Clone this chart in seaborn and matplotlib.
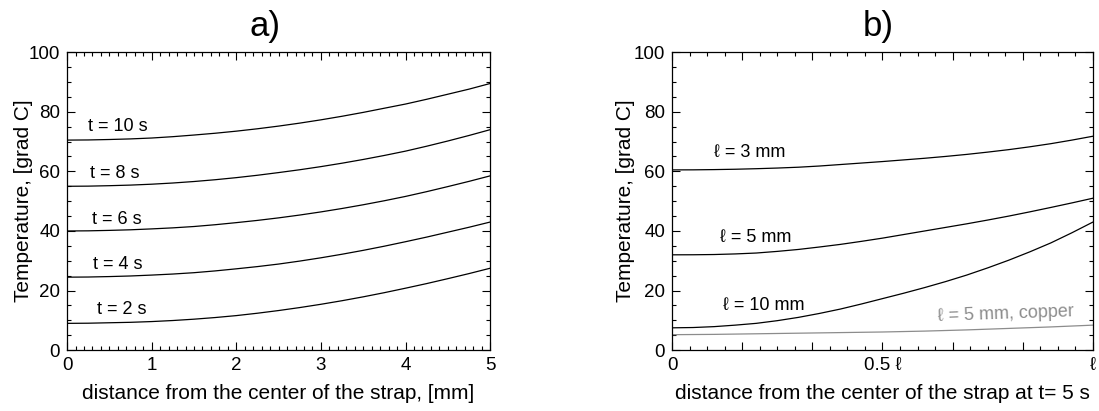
import numpy as np
import pandas as pd
import matplotlib
matplotlib.use("Agg")
import matplotlib.pyplot as plt
from matplotlib.ticker import MultipleLocator, FixedLocator
import seaborn as sns

# ---- data: panel a ----
x_a = [0, 0.25, 0.5, 0.75, 1, 1.25, 1.5, 1.75, 2, 2.25, 2.5, 2.75, 3, 3.25, 3.5,
       3.75, 4, 4.25, 4.5, 4.75, 5]
t10 = [70.5, 70.55, 70.7, 70.9, 71.2, 71.65, 72.2, 72.8, 73.5, 74.3, 75.2, 76.2,
       77.3, 78.5, 79.8, 81.2, 82.6, 84.2, 85.9, 87.6, 89.5]
t8 = [55.0, 55.05, 55.2, 55.4, 55.7, 56.1, 56.6, 57.2, 57.9, 58.7, 59.6, 60.55,
      61.6, 62.75, 64.0, 65.35, 66.8, 68.45, 70.2, 72.05, 74.0]
t6 = [40.0, 40.05, 40.2, 40.4, 40.7, 41.05, 41.5, 42.1, 42.8, 43.55, 44.4, 45.35,
      46.4, 47.55, 48.8, 50.15, 51.6, 53.2, 54.9, 56.65, 58.5]
t4 = [24.5, 24.55, 24.7, 24.9, 25.2, 25.55, 26.0, 26.6, 27.3, 28.05, 28.9, 29.9,
      31.0, 32.2, 33.5, 34.9, 36.4, 37.95, 39.6, 41.25, 43.0]
t2 = [9.0, 9.05, 9.2, 9.35, 9.6, 9.95, 10.4, 10.95, 11.6, 12.4, 13.3, 14.3,
      15.4, 16.6, 17.9, 19.3, 20.8, 22.35, 24.0, 25.7, 27.5]
labels_a = ["t = 10 s", "t = 8 s", "t = 6 s", "t = 4 s", "t = 2 s"]

# ---- data: panel b (distance as fraction of strap length) ----
x_b = [0, 0.05, 0.1, 0.15, 0.2, 0.25, 0.3, 0.35, 0.4, 0.45, 0.5, 0.55, 0.6, 0.65,
       0.7, 0.75, 0.8, 0.85, 0.9, 0.95, 1.0]
l3 = [60.5, 60.52, 60.6, 60.72, 60.9, 61.12, 61.4, 61.8, 62.3, 62.8, 63.3, 63.85,
      64.4, 65.02, 65.7, 66.47, 67.3, 68.25, 69.3, 70.5, 71.8]
l5 = [32.0, 32.02, 32.1, 32.3, 32.6, 33.15, 33.8, 34.62, 35.5, 36.52, 37.6, 38.8,
      40.0, 41.2, 42.4, 43.67, 45.0, 46.42, 47.9, 49.42, 51.0]
l10 = [7.5, 7.6, 7.9, 8.4, 9.0, 9.9, 11.0, 12.32, 13.8, 15.5, 17.3, 19.1, 21.0,
       23.02, 25.2, 27.62, 30.2, 33.0, 36.0, 39.4, 43.0]
cu5 = [5.2, 5.25, 5.3, 5.4, 5.5, 5.6, 5.7, 5.8, 5.9, 6.0, 6.1, 6.25, 6.4, 6.6,
       6.8, 7.05, 7.3, 7.55, 7.8, 8.1, 8.4]
labels_b = ["\u2113 = 3 mm", "\u2113 = 5 mm", "\u2113 = 10 mm", "\u2113 = 5 mm, copper"]
xtick_b = ["0", "", "", "0.5 \u2113", "", "", "\u2113"]

sns.set_style("ticks", rc={"text.color": "black", "axes.labelcolor": "black",
                           "xtick.color": "black", "ytick.color": "black",
                           "axes.edgecolor": "black"})
plt.rcParams['font.family'] = ['Liberation Sans', 'DejaVu Sans']
plt.rcParams.update({
    "xtick.direction": "in", "ytick.direction": "in",
    "xtick.top": True, "ytick.right": True,
    "xtick.major.size": 6, "ytick.major.size": 6,
    "xtick.minor.size": 3, "ytick.minor.size": 3,
    "xtick.major.width": 0.8, "ytick.major.width": 0.8,
    "xtick.minor.width": 0.8, "ytick.minor.width": 0.8,
    "axes.linewidth": 0.9,
})

fig = plt.figure(figsize=(10.99, 4.11), dpi=100)
ax1 = fig.add_axes([0.061, 0.148, 0.385, 0.725])
ax2 = fig.add_axes([0.6115, 0.148, 0.383, 0.725])

LFS = 15
TFS = 13.5

# panel a
df_a = pd.DataFrame({
    "x": x_a * 5,
    "y": t10 + t8 + t6 + t4 + t2,
    "s": sum([[lab] * len(x_a) for lab in labels_a], []),
})
sns.lineplot(data=df_a, x="x", y="y", units="s", estimator=None,
             color="black", lw=0.9, ax=ax1, legend=False)
ax1.set_xlim(0, 5)
ax1.set_ylim(0, 100)
ax1.xaxis.set_major_locator(MultipleLocator(1))
ax1.xaxis.set_minor_locator(MultipleLocator(0.1))
ax1.yaxis.set_major_locator(MultipleLocator(20))
ax1.yaxis.set_minor_locator(MultipleLocator(5))
ax1.set_xlabel("distance from the center of the strap, [mm]", fontsize=LFS, labelpad=7)
ax1.set_ylabel("Temperature, [grad C]", fontsize=LFS, labelpad=-3)
ax1.tick_params(labelsize=TFS, pad=5)
ax1.set_title("a)", fontsize=25, pad=12, x=0.467)
pos_a = [(0.25, 75.0), (0.27, 59.3), (0.29, 44.0), (0.31, 28.8), (0.35, 13.7)]
for lab, (px, py) in zip(labels_a, pos_a):
    ax1.text(px, py, lab, fontsize=13, ha="left", va="center")

# panel b
df_b = pd.DataFrame({
    "x": x_b * 3,
    "y": l3 + l5 + l10,
    "s": sum([[lab] * len(x_b) for lab in labels_b[:3]], []),
})
sns.lineplot(data=df_b, x="x", y="y", units="s", estimator=None,
             color="black", lw=0.9, ax=ax2, legend=False)
sns.lineplot(x=x_b, y=cu5, color="#8c8c8c", lw=0.9, ax=ax2)
ax2.set_xlim(0, 1)
ax2.set_ylim(0, 100)
ax2.xaxis.set_major_locator(FixedLocator(np.linspace(0, 1, 7)))
ax2.set_xticklabels(xtick_b)
ax2.xaxis.set_minor_locator(FixedLocator(np.linspace(0, 1, 25)))
ax2.yaxis.set_major_locator(MultipleLocator(20))
ax2.yaxis.set_minor_locator(MultipleLocator(5))
ax2.set_xlabel("distance from the center of the strap at t= 5 s", fontsize=LFS, labelpad=7)
ax2.set_ylabel("Temperature, [grad C]", fontsize=LFS, labelpad=-1)
ax2.tick_params(labelsize=TFS, pad=5)
ax2.set_title("b)", fontsize=25, pad=12, x=0.489)
pos_b = [(0.10, 66.3), (0.115, 37.7), (0.12, 14.9)]
for lab, (px, py) in zip(labels_b[:3], pos_b):
    ax2.text(px, py, lab, fontsize=13, ha="left", va="center")
ax2.text(0.63, 12.0, labels_b[3], fontsize=13, ha="left", va="center",
         color="#8c8c8c", rotation=2)

for ax in (ax1, ax2):
    for sp in ax.spines.values():
        sp.set_visible(True)
        sp.set_color("black")

fig.savefig("out.png", dpi=100)
